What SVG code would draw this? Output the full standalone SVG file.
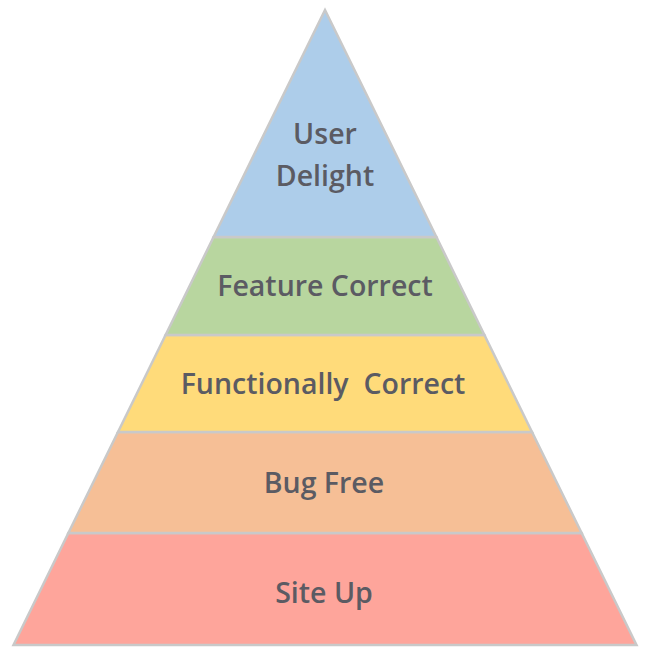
<svg xmlns="http://www.w3.org/2000/svg" width="650" height="660" viewBox="0 0 650 660">
<style>
.layer{stroke:#c9c9c9;stroke-width:2.5;stroke-linejoin:miter}
.lbl{font-family:"Open Sans","Liberation Sans",sans-serif;font-weight:600;font-size:28.5px;fill:#5b5b63;text-anchor:middle}
</style>
<rect width="650" height="660" fill="#ffffff"/>
<g id="site-up">
<polygon class="layer" fill="#fea59b" points="68.4,533 581.6,533 636.5,645 13.5,645"/>
<text class="lbl" x="324" y="603">Site Up</text>
</g>
<g id="bug-free">
<polygon class="layer" fill="#f6bf96" points="118,432 532,432 581.6,533 68.4,533"/>
<text class="lbl" x="324" y="493">Bug Free</text>
</g>
<g id="functionally-correct">
<polygon class="layer" fill="#ffdb7a" points="165.6,335 484.4,335 532,432 118,432"/>
<text class="lbl" x="323" y="394" xml:space="preserve">Functionally  Correct</text>
</g>
<g id="feature-correct">
<polygon class="layer" fill="#b8d69f" points="213.6,237 436.4,237 484.4,335 165.6,335"/>
<text class="lbl" x="325" y="296">Feature Correct</text>
</g>
<g id="user-delight">
<polygon class="layer" fill="#adcdea" points="325,10 436.4,237 213.6,237"/>
<text class="lbl" x="325" y="144">User</text>
<text class="lbl" x="325" y="186">Delight</text>
</g>
<g id="connectors"/>
</svg>
